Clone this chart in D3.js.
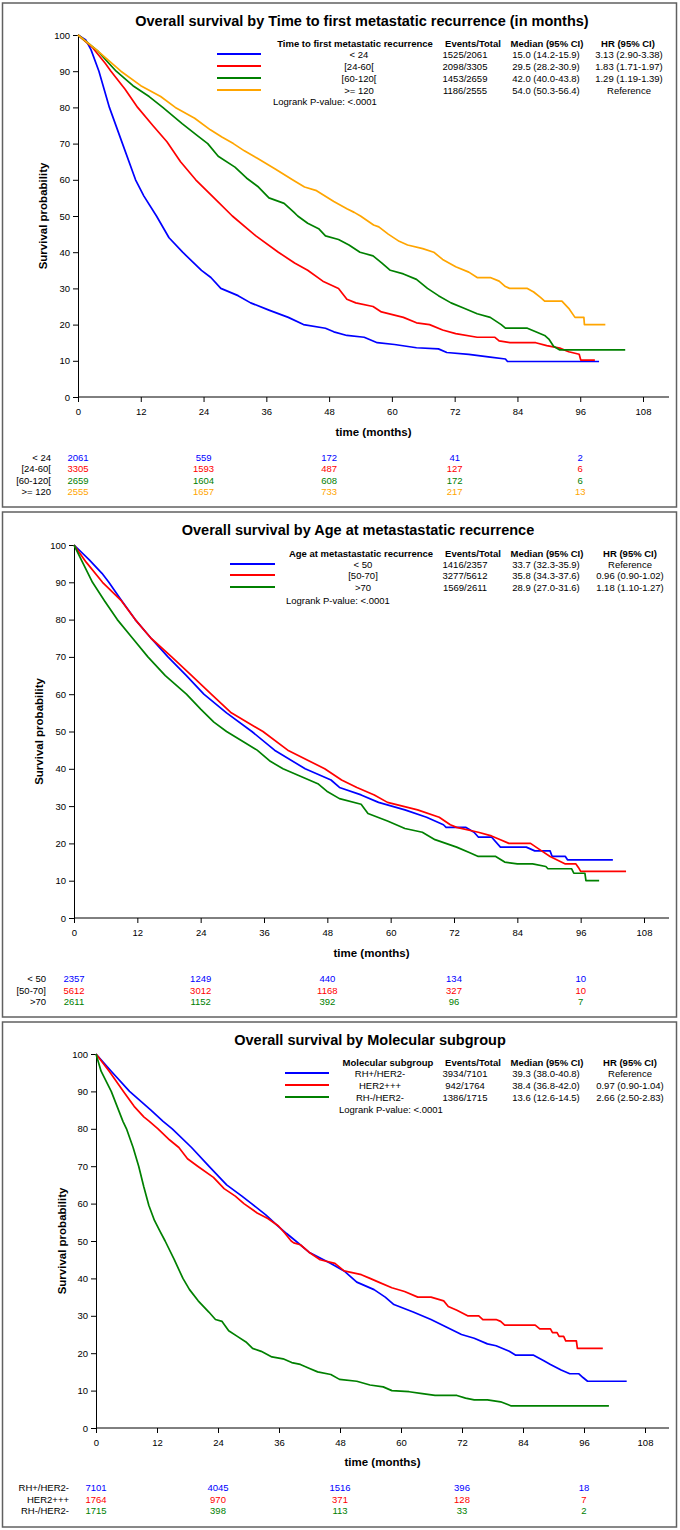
<!DOCTYPE html>
<html>
<head>
<meta charset="utf-8">
<script src="https://cdn.jsdelivr.net/npm/d3@7"></script>
<style>
body { margin: 0; background: #fff; }
svg { display: block; font-family: "Liberation Sans Narrow", "Arial Narrow", "Liberation Sans", Arial, sans-serif; }
</style>
</head>
<body>
<div id="chart"></div>
<script>
const W = 680, H = 1530;

const xTicks = [0, 12, 24, 36, 48, 60, 72, 84, 96, 108];
const yTicks = [0, 10, 20, 30, 40, 50, 60, 70, 80, 90, 100];
const riskTimes = [0, 24, 48, 72, 96];
const legendHeads = ["Events/Total", "Median (95% CI)", "HR (95% CI)"];
const colors4 = ["#0000ff", "#ff0000", "#008000", "#ffa500"];

// panel 1 : time to first metastatic recurrence
const p1Title = "Overall survival by Time to first metastatic recurrence (in months)";
const p1Factor = "Time to first metastatic recurrence";
const p1Groups = ["< 24", "[24-60[", "[60-120[", ">= 120"];
const p1Events = ["1525/2061", "2098/3305", "1453/2659", "1186/2555"];
const p1Median = ["15.0 (14.2-15.9)", "29.5 (28.2-30.9)", "42.0 (40.0-43.8)", "54.0 (50.3-56.4)"];
const p1HR = ["3.13 (2.90-3.38)", "1.83 (1.71-1.97)", "1.29 (1.19-1.39)", "Reference"];
const p1Risk = [[2061, 559, 172, 41, 2], [3305, 1593, 487, 127, 6], [2659, 1604, 608, 172, 6], [2555, 1657, 733, 217, 13]];
const p1Lt24 = [[0,100],[1.5,98.6],[2.5,95.9],[4,90],[6,80],[8.5,70],[11,60],[12.6,55.5],[15,50],[17.4,44],[20,40],[23.6,35],[25.4,33],[27.3,30],[30.6,28],[33,26],[36.5,24],[40.2,22],[43.1,20],[47.3,19],[48.9,18],[51.4,17],[54.7,16.5],[57.2,15],[60.5,14.5],[64.7,13.6],[68.9,13.3],[70.5,12.3],[74.7,11.8],[78.8,11],[81.7,10.5],[82.1,9.8],[99.6,9.8]];
const p1From24 = [[0,100],[2.8,96.5],[5.2,92.2],[6.3,90],[9,85],[11.4,80],[14.3,75],[17,70.5],[19.6,65],[22.5,60],[26,55],[29.5,50],[34,44.5],[38.3,40],[41.4,37],[43.9,35],[46.8,32],[49.8,30],[51.4,27],[53.1,26],[56.4,25],[58,23.5],[62.2,22],[64.7,20.5],[67.2,20],[69.7,18.5],[72.2,17.5],[76.3,16.5],[79.7,16.5],[80.5,15.5],[82.6,15],[87.5,15],[89.6,14.2],[92.1,13.5],[93.8,12.5],[95.8,11.8],[96.1,10.2],[98.8,10.2]];
const p1From60 = [[0,100],[3.7,95.7],[7.3,90],[10.5,86],[13.6,83],[16.2,80],[19.9,75.5],[23,72],[24.8,70],[26.8,66.5],[30,63.5],[32.2,60.5],[34.5,58],[36.5,55],[39.4,53.5],[41.3,51],[42,50],[43.9,48],[46,46.5],[47.3,44.5],[49.8,43.5],[51.8,42],[53.9,40],[56.4,39],[58.1,37],[59.7,35],[62.2,34],[64.7,32.5],[66.8,30],[68.9,28],[71.3,26],[73.8,24.5],[76.3,23],[78.8,22],[80.9,20],[81.7,19],[85.9,19],[87.5,18],[89.2,17],[90,16],[90.9,14],[92.1,13],[104.6,13]];
const p1From120 = [[0,100],[3.7,95.7],[8.2,90],[12,86],[15.8,83],[18.6,80],[22.3,77],[25.3,73.8],[27.5,71.8],[29.7,70],[31.8,68],[34.2,66],[37.7,63],[41,60],[43.3,58],[45.6,57],[48.9,54],[51.4,52],[52.8,51],[54,50],[56.5,47.5],[57.5,47],[59.3,45],[61.4,43],[63,42],[65.9,41],[68,40],[69.7,38],[72.2,36],[74.7,34.5],[76.3,33],[78.8,33],[80.5,32],[81.7,30.5],[82.5,30],[85.9,30],[87.1,29],[88.4,27.5],[89.2,26.5],[92.5,26.5],[93.8,24.5],[95,22],[96.7,22],[96.8,20],[100.8,20]];

// panel 2 : age
const p2Title = "Overall survival by Age at metastastatic recurrence";
const p2Factor = "Age at metastastatic recurrence";
const p2Groups = ["< 50", "[50-70]", ">70"];
const p2Events = ["1416/2357", "3277/5612", "1569/2611"];
const p2Median = ["33.7 (32.3-35.9)", "35.8 (34.3-37.6)", "28.9 (27.0-31.6)"];
const p2HR = ["Reference", "0.96 (0.90-1.02)", "1.18 (1.10-1.27)"];
const p2Risk = [[2357, 1249, 440, 134, 10], [5612, 3012, 1168, 327, 10], [2611, 1152, 392, 96, 7]];
const p2Lt50 = [[0,100],[2.9,96],[5.3,92.4],[6.6,90],[8.8,85.5],[11.6,80],[14.6,75],[17.8,70],[21.3,65],[24.6,60],[28.9,55],[33.7,50],[38,45],[43.8,40],[48.7,37],[50.3,35],[54.4,33],[57.7,31],[62.7,29],[66.8,27],[70,25],[70.5,24.3],[74.2,24.3],[75.8,23],[76.6,21.7],[79.1,21.7],[80.8,19],[85.7,19],[87.3,18],[90.2,18],[90.6,16.5],[93.1,16.5],[93.5,15.6],[102.1,15.6]];
const p2From50 = [[0,100],[2.3,95.4],[5.4,90],[9,85],[11.6,80],[14.6,75],[18.5,70],[22.3,65],[26,60],[29.8,55],[35.8,50],[40.5,45],[47.5,40],[50.7,37],[53.6,35],[56.9,33],[59.4,31],[65.1,29],[69.2,27],[71.3,25],[72.5,24.3],[76.6,23],[79.1,22],[80.8,21],[82.4,20],[86.5,20],[88.6,18],[90.2,16.5],[93.1,14.5],[95.1,14.5],[95.6,13.5],[96,12.5],[104.6,12.5]];
const p2Gt70 = [[0,100],[1.6,95.4],[3.5,90],[5.8,85],[8.2,80],[11.1,75],[14,70],[17.3,65],[21.3,60],[24,56],[26.5,52.5],[28.9,50],[32.4,47],[34.7,45],[37.2,42],[39.6,40],[42.9,38],[46.2,36],[47.9,34],[50.3,32],[54.4,30.5],[55.7,28],[59.4,26],[62.7,24],[66,23],[68.4,21],[72.5,19],[75,17.5],[76.6,16.5],[79.9,16.5],[81.6,15],[84,14.5],[86.9,14.5],[89.4,13.8],[89.8,13.2],[94.3,13.2],[94.7,12],[96.8,12],[97,10],[99.5,10]];

// panel 3 : molecular subgroup
const p3Title = "Overall survival by Molecular subgroup";
const p3Factor = "Molecular subgroup";
const p3Groups = ["RH+/HER2-", "HER2+++", "RH-/HER2-"];
const p3Events = ["3934/7101", "942/1764", "1386/1715"];
const p3Median = ["39.3 (38.0-40.8)", "38.4 (36.8-42.0)", "13.6 (12.6-14.5)"];
const p3HR = ["Reference", "0.97 (0.90-1.04)", "2.66 (2.50-2.83)"];
const p3Risk = [[7101, 4045, 1516, 396, 18], [1764, 970, 371, 128, 7], [1715, 398, 113, 33, 2]];
const p3Luminal = [[0,100],[3,95.4],[6.6,90],[10.8,85],[13.2,82],[15,80],[18.8,75],[22.2,70],[25.7,65],[28.7,62],[30.6,60],[33.4,57],[35.8,54],[37.5,52],[39.3,50],[41.9,47],[46.2,44],[48.8,42],[51.3,39],[54.7,37],[56.9,35],[58.6,33],[62.4,31],[65.9,29],[68.9,27],[71.9,25],[74.4,24],[77,22.5],[78.7,22],[81.3,20.5],[82.5,19.5],[86,19.5],[88.1,18],[89.4,17],[91.5,15.5],[93.2,14.5],[95,14.5],[95.8,13.5],[96.7,12.5],[104.4,12.5]];
const p3Her2 = [[0,100],[2.6,95.4],[5.4,90],[7.5,86],[9.4,83.2],[10.5,82],[12.2,80],[14.5,77],[16.3,75],[18,72],[20,70],[23.1,67],[25.2,64],[27.4,62],[29.1,60],[31.7,57.5],[33.8,56],[35.9,54],[37.2,52],[38.4,50],[38.9,49.5],[40.2,49],[41.9,47],[44.1,45],[47,44],[48.8,42],[52.2,41],[53.9,40],[55.6,39],[58.2,37.5],[60.7,36.5],[63.3,35],[65.9,35],[68.4,34],[69.3,32.5],[71,31.5],[73.1,30],[75.3,30],[76.1,29],[78.7,29],[79.6,28.5],[80.4,27.5],[86.4,27.5],[87.3,26.5],[89.4,26.5],[89.8,25.5],[90.7,25.5],[91.1,24.5],[92,24.5],[92.4,23.3],[94.5,23.3],[94.7,21.3],[99.7,21.3]];
const p3TripleNeg = [[0,100],[1,95.4],[3,90],[5.3,82],[6,80],[7.3,75],[8.4,70],[9.4,64.5],[10.4,59.5],[11.5,55.5],[12.6,52.6],[13.6,50],[15.4,45],[17.1,40],[18.4,37],[20.1,34],[22.2,31],[23.5,29],[24.8,28.5],[26.1,26],[27.8,24.5],[29.5,23],[30.8,21.3],[32.5,20.5],[34.6,19],[36.8,18.5],[38.5,17.5],[40.2,17],[41.9,16],[43.6,15],[46.2,14.3],[47.9,13],[51.3,12.5],[53.9,11.5],[56.5,11],[58.2,10],[61.6,9.7],[64.2,9.2],[66.7,8.7],[71,8.7],[72.7,8],[74.4,7.5],[77,7.5],[79.6,7],[81.7,5.9],[100.9,5.9]];

const svg = d3.select("#chart")
    .append("svg")
    .attr("width", W)
    .attr("height", H);

function drawPanel(p) {
    const g = svg.append("g");

    g.append("rect")
        .attr("x", 2.5)
        .attr("y", p.top)
        .attr("width", 674)
        .attr("height", p.bottom - p.top)
        .attr("fill", "none")
        .attr("stroke", "#606060")
        .attr("stroke-width", 1.5);

    const x = d3.scaleLinear().domain([0, 108]).range([p.x0, p.x108]);
    const y = d3.scaleLinear().domain([0, 100]).range([p.y0, p.y100]);

    g.append("text")
        .attr("x", p.titleX)
        .attr("y", p.titleY)
        .attr("text-anchor", "middle")
        .attr("dominant-baseline", "central")
        .attr("font-size", 14.5)
        .attr("font-weight", "bold")
        .text(p.title);

    const yAxis = g.append("g")
        .attr("transform", `translate(${p.x0},0)`)
        .call(d3.axisLeft(y).tickValues(yTicks).tickSize(5).tickSizeOuter(0));
    yAxis.selectAll("text").attr("font-size", 9.5).attr("font-family", null);

    const xAxis = g.append("g")
        .attr("transform", `translate(0,${p.y0})`)
        .call(d3.axisBottom(x).tickValues(xTicks).tickSize(5).tickSizeOuter(0).tickPadding(6));
    xAxis.select(".domain").remove();
    xAxis.selectAll("text").attr("font-size", 9.5).attr("font-family", null);
    xAxis.append("line")
        .attr("x1", p.x0).attr("x2", 669)
        .attr("stroke", "black");

    g.append("text")
        .attr("transform", `translate(${p.yLabelX},${(p.y0 + p.y100) / 2}) rotate(-90)`)
        .attr("text-anchor", "middle")
        .attr("dominant-baseline", "central")
        .attr("font-size", 11.5)
        .attr("font-weight", "bold")
        .text("Survival probability");

    g.append("text")
        .attr("x", (p.x0 + 669) / 2)
        .attr("y", p.xLabelY)
        .attr("text-anchor", "middle")
        .attr("dominant-baseline", "central")
        .attr("font-size", 11.5)
        .attr("font-weight", "bold")
        .text("time (months)");

    const line = d3.line()
        .x(d => x(d[0]))
        .y(d => y(d[1]));

    p.curves.forEach((c, i) => {
        g.append("path")
            .datum(c)
            .attr("d", line)
            .attr("fill", "none")
            .attr("stroke", p.colors[i])
            .attr("stroke-width", 1.7)
            .attr("stroke-linejoin", "round");
    });

    // legend block
    const heads = [p.factor].concat(legendHeads);
    heads.forEach((h, j) => {
        g.append("text")
            .attr("x", p.headX[j])
            .attr("y", p.legY)
            .attr("text-anchor", "middle")
            .attr("dominant-baseline", "central")
            .attr("font-size", 9.5)
            .attr("font-weight", "bold")
            .text(h);
    });
    p.groups.forEach((grp, i) => {
        const ry = p.legRows[i];
        g.append("line")
            .attr("x1", p.swatch[0]).attr("x2", p.swatch[1])
            .attr("y1", ry).attr("y2", ry)
            .attr("stroke", p.colors[i])
            .attr("stroke-width", 2);
        [grp, p.events[i], p.median[i], p.hr[i]].forEach((t, j) => {
            g.append("text")
                .attr("x", p.rowX[j])
                .attr("y", ry)
                .attr("text-anchor", "middle")
                .attr("dominant-baseline", "central")
                .attr("font-size", 9.5)
                .text(t);
        });
    });
    g.append("text")
        .attr("x", p.logrankX)
        .attr("y", p.logrankY)
        .attr("dominant-baseline", "central")
        .attr("font-size", 9.5)
        .text("Logrank P-value: <.0001");

    // number at risk
    p.groups.forEach((grp, i) => {
        const ry = p.riskRows[i];
        g.append("text")
            .attr("x", p.riskLabelX)
            .attr("y", ry)
            .attr("text-anchor", "end")
            .attr("dominant-baseline", "central")
            .attr("font-size", 9.5)
            .text(grp);
        g.selectAll(null)
            .data(p.risk[i])
            .enter()
            .append("text")
            .attr("x", (d, j) => x(riskTimes[j]))
            .attr("y", ry)
            .attr("text-anchor", "middle")
            .attr("dominant-baseline", "central")
            .attr("font-size", 9.5)
            .attr("fill", p.colors[i])
            .text(d => d);
    });
}

drawPanel({
    top: 3, bottom: 507,
    x0: 78, x108: 643, y0: 397, y100: 35,
    title: p1Title, titleX: 362, titleY: 21,
    yLabelX: 43, xLabelY: 432,
    factor: p1Factor, groups: p1Groups, events: p1Events, median: p1Median, hr: p1HR,
    curves: [p1Lt24, p1From24, p1From60, p1From120], colors: colors4,
    legY: 43, legRows: [54, 66, 78, 90], swatch: [217, 261],
    headX: [355, 473, 547, 628], rowX: [359, 465, 546, 629],
    logrankX: 273, logrankY: 101,
    risk: p1Risk, riskRows: [457, 468, 480, 491], riskLabelX: 51
});

drawPanel({
    top: 512, bottom: 1017,
    x0: 74, x108: 644, y0: 918, y100: 545,
    title: p2Title, titleX: 358, titleY: 530,
    yLabelX: 39, xLabelY: 953,
    factor: p2Factor, groups: p2Groups, events: p2Events, median: p2Median, hr: p2HR,
    curves: [p2Lt50, p2From50, p2Gt70], colors: colors4,
    legY: 553, legRows: [564, 575, 587], swatch: [230, 275],
    headX: [361, 473, 547, 630], rowX: [363, 465, 546, 630],
    logrankX: 286, logrankY: 600,
    risk: p2Risk, riskRows: [978, 990, 1001], riskLabelX: 46
});

drawPanel({
    top: 1022, bottom: 1527,
    x0: 96, x108: 645, y0: 1428, y100: 1054,
    title: p3Title, titleX: 370, titleY: 1040,
    yLabelX: 62, xLabelY: 1462,
    factor: p3Factor, groups: p3Groups, events: p3Events, median: p3Median, hr: p3HR,
    curves: [p3Luminal, p3Her2, p3TripleNeg], colors: colors4,
    legY: 1062, legRows: [1073, 1085, 1097], swatch: [285, 329],
    headX: [388, 473, 547, 630], rowX: [380, 465, 546, 630],
    logrankX: 339, logrankY: 1109,
    risk: p3Risk, riskRows: [1487, 1499, 1510], riskLabelX: 69
});
</script>
</body>
</html>
